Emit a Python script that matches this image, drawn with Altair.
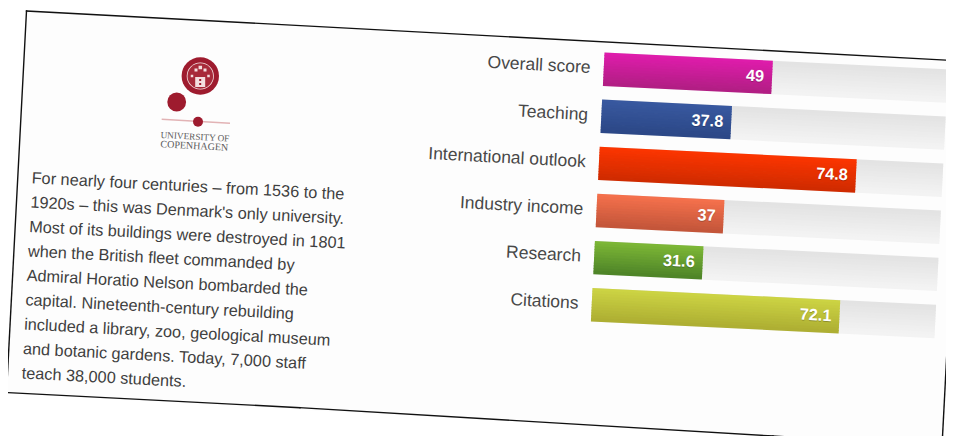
import math
import altair as alt
import pandas as pd

categories = ["Overall score", "Teaching", "International outlook", "Industry income", "Research", "Citations"]
values = [49, 37.8, 74.8, 37, 31.6, 72.1]
value_labels = ["49", "37.8", "74.8", "37", "31.6", "72.1"]
top_colors = ["#de1cab", "#38589f", "#fb3500", "#f4704c", "#7cb636", "#ccd343"]
bottom_colors = ["#b21e84", "#2c4887", "#d02b00", "#c4563a", "#4f8528", "#aeaf33"]
paragraph = [
    "For nearly four centuries – from 1536 to the",
    "1920s – this was Denmark's only university.",
    "Most of its buildings were destroyed in 1801",
    "when the British fleet commanded by",
    "Admiral Horatio Nelson bombarded the",
    "capital. Nineteenth-century rebuilding",
    "included a library, zoo, geological museum",
    "and botanic gardens. Today, 7,000 staff",
    "teach 38,000 students.",
]
logo_lines = ["UNIVERSITY OF", "COPENHAGEN"]

TILT = math.radians(2.8)
ux, uy = math.cos(TILT), math.sin(TILT)
SCALE_LEN = 344.0
X_DOM = alt.Scale(domain=[8, 946], nice=False, zero=False)
Y_DOM = alt.Scale(domain=[436, 8], nice=False, zero=False)
XE = alt.X("x:Q", scale=X_DOM, axis=None)
YE = alt.Y("y:Q", scale=Y_DOM, axis=None)


def mix(a, b, t):
    pa = [int(a[i:i + 2], 16) for i in (1, 3, 5)]
    pb = [int(b[i:i + 2], 16) for i in (1, 3, 5)]
    return "#%02x%02x%02x" % tuple(round(p + (q - p) * t) for p, q in zip(pa, pb))


def row_origin(i):
    return 603.7 - 2.4 * i, 69.2 + 47.1 * i


N = 12
THICK = 33.4
strips = []
for fraction, top, bottom in [
    ([1.0] * len(values), ["#e3e3e3"] * len(values), ["#f3f3f3"] * len(values)),
    ([v / 100 for v in values], top_colors, bottom_colors),
]:
    for i in range(len(values)):
        ox, oy = row_origin(i)
        L = SCALE_LEN * fraction[i]
        for k in range(N):
            off = -THICK / 2 + 1.75 + (THICK - 3.5) * k / (N - 1)
            sx, sy = ox - uy * off, oy + ux * off
            strips.append(dict(x=sx, y=sy, x2=sx + L * ux, y2=sy + L * uy,
                               c=mix(top[i], bottom[i], k / (N - 1))))
strip_df = pd.DataFrame(strips)


def seg(df, width, **kw):
    return alt.Chart(df).mark_rule(strokeWidth=width, **kw).encode(x=XE, y=YE, x2="x2:Q", y2="y2:Q")


bars = alt.Chart(strip_df).mark_rule(strokeWidth=3.5).encode(
    x=XE, y=YE, x2="x2:Q", y2="y2:Q",
    color=alt.Color("c:N", scale=None, legend=None),
)

TL = (26.5, 11.0)
TR = (962.0, 61.0)
BR = (942.0, 446.3)
BM1 = (773.0, 436.0)
BM2 = (300.0, 407.7)
BL = (6.5, 392.5)
sheet = seg(pd.DataFrame([dict(x=(TL[0] + BL[0]) / 2, y=(TL[1] + BL[1]) / 2,
                               x2=(TR[0] + BR[0]) / 2, y2=(TR[1] + BR[1]) / 2)]),
            384, color="#fdfdfd")
edges = seg(pd.DataFrame([
    dict(x=a[0], y=a[1], x2=b[0], y2=b[1])
    for a, b in [(TL, TR), (TR, BR), (BR, BM1), (BM1, BM2), (BM2, BL), (BL, TL)]
]), 1.4, color="#111111", strokeCap="square")

val_rows = []
cat_rows = []
for i, v in enumerate(values):
    ox, oy = row_origin(i)
    L = SCALE_LEN * v / 100 - 8
    val_rows.append(dict(x=ox + L * ux, y=oy + L * uy - 0.3, t=value_labels[i]))
    cat_rows.append(dict(x=ox - 13.2, y=oy - 1.1, t=categories[i]))
val_df = pd.DataFrame(val_rows)
cat_df = pd.DataFrame(cat_rows)


def text(df, **kw):
    return alt.Chart(df).mark_text(baseline="middle", **kw).encode(x=XE, y=YE, text="t:N")


val_shadow = text(val_df, align="right", angle=2.8, font="Liberation Sans", fontWeight="bold",
                  fontSize=16.3, color="#000000", opacity=0.22, dy=1)
val_text = text(val_df, align="right", angle=2.8, font="Liberation Sans", fontWeight="bold",
                fontSize=16.3, color="#ffffff")
cat_text = text(cat_df, align="right", angle=3, font="Liberation Sans", fontSize=17.5, color="#484848")

para_df = pd.DataFrame([dict(x=31.7 - 1.25 * i, y=178.2 + 24.4 * i, t=s) for i, s in enumerate(paragraph)])
para_text = text(para_df, align="left", angle=3, font="Liberation Sans", fontSize=16.3, color="#3f3f3f")

RED = "#9e1b2e"
PINK = "#f3dfe0"


def dots(rows, shape):
    return alt.Chart(pd.DataFrame(rows)).mark_point(filled=True, opacity=1, shape=shape).encode(
        x=XE, y=YE,
        size=alt.Size("s:Q", scale=None, legend=None),
        color=alt.Color("c:N", scale=None, legend=None),
    )


seal = dots([
    dict(x=200.3, y=76, s=(2 * 18.7) ** 2, c=RED),
    dict(x=200.3, y=76, s=(2 * 13.6) ** 2, c=PINK),
    dict(x=200.3, y=76, s=(2 * 12.8) ** 2, c="#a82a3a"),
    dict(x=176.7, y=102, s=(2 * 9.4) ** 2, c=RED),
    dict(x=198, y=121.7, s=(2 * 5) ** 2, c=RED),
], "circle")
crest = dots([
    dict(x=200.2, y=82, s=10 ** 2, c=PINK),
    dict(x=200.2, y=80, s=2 ** 2, c=RED),
    dict(x=200.2, y=84, s=2 ** 2, c=RED),
    dict(x=196, y=70, s=3 ** 2, c=PINK),
    dict(x=200.3, y=67.5, s=3.5 ** 2, c=PINK),
    dict(x=205, y=70, s=3 ** 2, c=PINK),
    dict(x=192, y=76, s=2.5 ** 2, c=PINK),
    dict(x=208.5, y=76, s=2.5 ** 2, c=PINK),
], "square")
logo_rule = seg(pd.DataFrame([dict(x=161.7, y=119.3, x2=230, y2=123.3)]), 1.4, color="#e2b3b5")
logo_1 = text(pd.DataFrame([dict(x=195, y=136.7, t=logo_lines[0])]), align="center", angle=3,
              font="Liberation Serif", fontSize=9.2, color="#5c5c5c")
logo_2 = text(pd.DataFrame([dict(x=194.3, y=146, t=logo_lines[1])]), align="center", angle=3,
              font="Liberation Serif", fontSize=10, color="#5c5c5c")

chart = alt.layer(
    sheet, edges, bars, val_shadow, val_text, cat_text, para_text,
    logo_rule, seal, crest, logo_1, logo_2,
).properties(
    width=938, height=428,
    autosize=alt.AutoSizeParams(type="none"),
    padding=0,
    background="#ffffff",
).configure_view(stroke=None)

chart.save("out.html", embed_options={"renderer": "svg", "actions": False})
